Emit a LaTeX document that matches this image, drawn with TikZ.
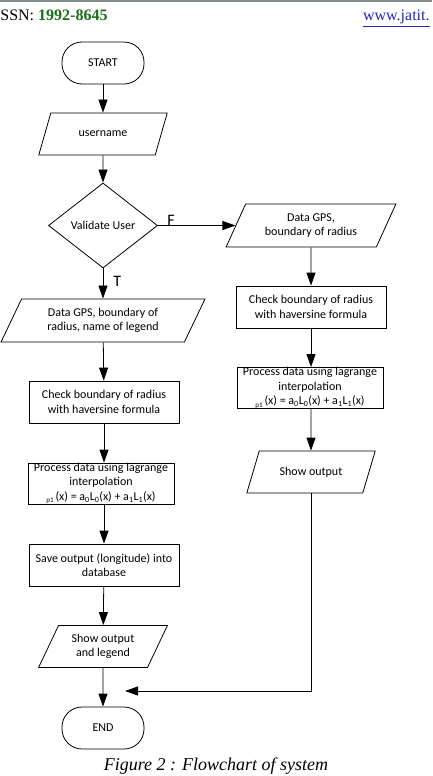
\documentclass[tikz,border=0pt]{standalone}
\usepackage{fontspec}
\setmainfont{Carlito}
\newfontfamily\timesfont{Liberation Serif}
\usetikzlibrary{shapes.geometric,arrows.meta}
\definecolor{issngreen}{RGB}{22,112,22}
\definecolor{linkblue}{RGB}{36,36,190}
\definecolor{rulegray}{RGB}{128,142,142}
\begin{document}
\begin{tikzpicture}[x=1pt, y=-1pt, >={Triangle[length=13pt,width=9pt]}, line width=0.8pt,
                every node/.style={font=\fontsize{12}{14.5}\selectfont, align=center},
                term/.style={draw, rectangle, rounded corners=20pt, minimum width=82pt, minimum height=42pt},
                io/.style={draw, trapezium, trapezium left angle=66, trapezium right angle=114, trapezium stretches=true, minimum height=42pt, inner xsep=0pt},
                procbox/.style={draw, rectangle, minimum width=150pt, minimum height=42pt, inner sep=0pt},
                decide/.style={draw, diamond, aspect=1.28, minimum width=109pt, minimum height=85pt, inner sep=0pt},
                flowlabel/.style={font=\fontsize{16}{16}\selectfont, inner sep=0pt}]
                \useasboundingbox (0,0) rectangle (432,776);
                \draw [rulegray, line width=2pt] (0,1) -- (432,1);
                \node [anchor=base west, inner sep=0pt, font=\timesfont\fontsize{16}{16}\selectfont] (issn) at (0,21) {SSN: \textcolor{issngreen}{\bfseries 1992-8645}};
                \node [anchor=base east, inner sep=0pt, font=\timesfont\fontsize{16}{16}\selectfont] (site) at (430,21) {\textcolor{linkblue}{\underline{www.jatit.}}};
                \node [term] (start) at (103,63) {START};
                \node [io, minimum width=129pt] (user) at (103,134) {username};
                \node [decide] (valid) at (103,225.5) {Validate User};
                \node [io, minimum width=204pt, minimum height=43pt] (gps1) at (103,320.5) {Data GPS, boundary of\\radius, name of legend};
                \node [procbox] (check1) at (104,402) {Check boundary of radius\\with haversine formula};
                \node [procbox, minimum width=146pt, minimum height=41pt] (lagr1) at (101,483.5) {Process data using lagrange\\interpolation\\\raisebox{-2.5pt}{\fontsize{7}{7}\selectfont p1}\,(x) = a\textsubscript{0}L\textsubscript{0}(x) + a\textsubscript{1}L\textsubscript{1}(x)};
                \node [procbox] (save) at (104,565) {Save output (longitude) into\\database};
                \node [io, minimum width=129pt] (show1) at (103,646.5) {Show output\\and legend};
                \node [term] (end) at (103,728) {END};
                \node [io, minimum width=170pt, minimum height=43pt] (gps2) at (311,225.5) {Data GPS,\\boundary of radius};
                \node [procbox] (check2) at (311,307) {Check boundary of radius\\with haversine formula};
                \node [procbox, minimum width=146pt, minimum height=41pt] (lagr2) at (310,388) {Process data using lagrange\\interpolation\\\raisebox{-2.5pt}{\fontsize{7}{7}\selectfont p1}\,(x) = a\textsubscript{0}L\textsubscript{0}(x) + a\textsubscript{1}L\textsubscript{1}(x)};
                \node [io, minimum width=129pt] (show2) at (311,472) {Show output};
                \coordinate (merge) at (125,691);
                \draw [->] (start) -- (user);
                \draw [->] (user) -- (valid);
                \draw [->] (valid) -- (gps2);
                \node [flowlabel, anchor=south west] (flabel) at ([xshift=9pt]valid.east) {F};
                \draw [->] (valid) -- (gps1);
                \node [flowlabel, anchor=north west] (tlabel) at ([xshift=10pt,yshift=-7pt]valid.south) {T};
                \draw [->] (gps1) -- (check1);
                \draw [->] (check1) -- (check1 |- lagr1.north);
                \draw [->] (check1 |- lagr1.south) -- (save);
                \draw [->] (save) -- (show1);
                \draw [->] (show1) -- (end);
                \draw [->] (gps2) -- (check2);
                \draw [->] (check2) -- (check2 |- lagr2.north);
                \draw [->] (check2 |- lagr2.south) -- (show2);
                \draw [->] (show2) -- (show2 |- merge) -- (merge);
                \node [anchor=base, inner sep=0pt, font=\timesfont\itshape\fontsize{18}{18}\selectfont] (caption) at (216,770) {Figure 2 : Flowchart of system};
            \end{tikzpicture}
\end{document}
